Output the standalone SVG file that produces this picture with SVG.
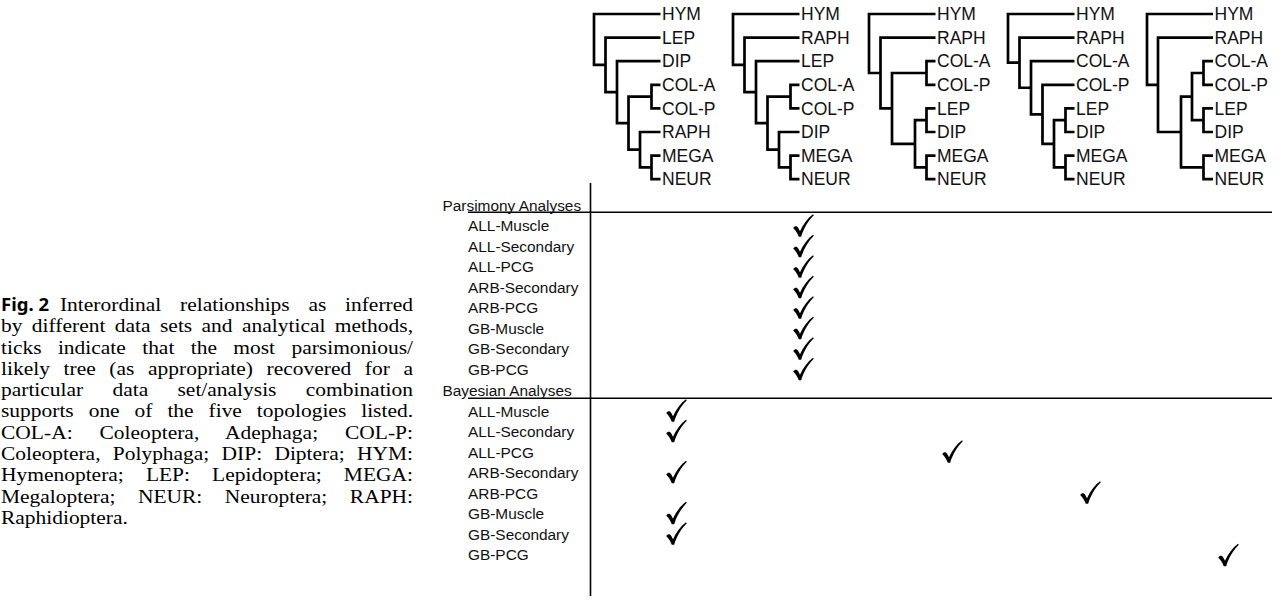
<svg xmlns="http://www.w3.org/2000/svg" xmlns:xlink="http://www.w3.org/1999/xlink" width="1283" height="600" viewBox="0 0 1283 600">
<style>
.br{fill:none;stroke:#000;stroke-width:2.7;stroke-linejoin:miter;stroke-linecap:butt}
.tl{font-family:"Liberation Sans",Arial,sans-serif;font-size:17.5px;fill:#111}
.rl{font-family:"Liberation Sans",Arial,sans-serif;font-size:15.4px;fill:#111}
.ax{stroke:#000;stroke-width:1.6;fill:none}
.cap{font-family:"Liberation Serif","Times New Roman",serif;font-size:18.5px;fill:#000}
.fig{font-family:"Noto Sans","Open Sans",sans-serif;font-weight:bold;font-size:18.5px;fill:#000}
</style>
<defs>
<path id="chk" d="M-9.8,2.5 C-8.2,0.3 -6,0.3 -4.7,2.4 L-3,5.8 C0,-1.2 4.6,-7.2 10,-11.2 L10.8,-10.2 C5.2,-4.5 0.6,3 -1.8,11.2 L-4.2,11.2 C-5.6,7.6 -7.2,5 -9.8,2.5 Z" fill="#000"/>
</defs>
<rect width="1283" height="600" fill="#fff"/>

<g id="caption">
<text class="fig" x="1" y="311">Fig. 2</text>
<g transform="scale(1.16,1)">
<text class="cap" x="51.7" y="311" textLength="304.3" lengthAdjust="spacing" word-spacing="11.5">Interordinal relationships as inferred</text>
<text class="cap" x="0.86" y="332.3" textLength="355.2" lengthAdjust="spacing" word-spacing="3.45">by different data sets and analytical methods,</text>
<text class="cap" x="0.86" y="353.6" textLength="355.2" lengthAdjust="spacing" word-spacing="9.5">ticks indicate that the most parsimonious/</text>
<text class="cap" x="0.86" y="374.9" textLength="355.2" lengthAdjust="spacing" word-spacing="7.15">likely tree (as appropriate) recovered for a</text>
<text class="cap" x="0.86" y="396.2" textLength="355.2" lengthAdjust="spacing" word-spacing="20.6">particular data set/analysis combination</text>
<text class="cap" x="0.86" y="417.5" textLength="355.2" lengthAdjust="spacing" word-spacing="8.25">supports one of the five topologies listed.</text>
<text class="cap" x="0.86" y="438.8" textLength="355.2" lengthAdjust="spacing" word-spacing="18.4">COL-A: Coleoptera, Adephaga; COL-P:</text>
<text class="cap" x="0.86" y="460.1" textLength="355.2" lengthAdjust="spacing" word-spacing="5.95">Coleoptera, Polyphaga; DIP: Diptera; HYM:</text>
<text class="cap" x="0.86" y="481.4" textLength="355.2" lengthAdjust="spacing" word-spacing="14.4">Hymenoptera; LEP: Lepidoptera; MEGA:</text>
<text class="cap" x="0.86" y="502.7" textLength="355.2" lengthAdjust="spacing" word-spacing="14.8">Megaloptera; NEUR: Neuroptera; RAPH:</text>
<text class="cap" x="0.86" y="524">Raphidioptera.</text>
</g>
</g>

<g id="tree1">
<path class="br" d="M660.5,14 H594 V64.9 H605.5 M660.5,37.6 H605.5 V92.2 H617 M660.5,61.2 H617 V123.15 H628.5 M651.5,96.6 H628.5 V149.7 H640 M660.5,84.8 H651.5 V108.4 H660.5 M660.5,132 H640 V167.4 H651.5 M660.5,155.6 H651.5 V179.2 H660.5"/>
<text class="tl" x="662" y="20.2">HYM</text>
<text class="tl" x="662" y="43.8">LEP</text>
<text class="tl" x="662" y="67.4">DIP</text>
<text class="tl" x="662" y="91">COL-A</text>
<text class="tl" x="662" y="114.6">COL-P</text>
<text class="tl" x="662" y="138.2">RAPH</text>
<text class="tl" x="662" y="161.8">MEGA</text>
<text class="tl" x="662" y="185.4">NEUR</text>
</g>

<g id="tree2">
<path class="br" d="M799.5,14 H733 V64.9 H744.5 M799.5,37.6 H744.5 V92.2 H756 M799.5,61.2 H756 V123.15 H767.5 M790.5,96.6 H767.5 V149.7 H779 M799.5,84.8 H790.5 V108.4 H799.5 M799.5,132 H779 V167.4 H790.5 M799.5,155.6 H790.5 V179.2 H799.5"/>
<text class="tl" x="801" y="20.2">HYM</text>
<text class="tl" x="801" y="43.8">RAPH</text>
<text class="tl" x="801" y="67.4">LEP</text>
<text class="tl" x="801" y="91">COL-A</text>
<text class="tl" x="801" y="114.6">COL-P</text>
<text class="tl" x="801" y="138.2">DIP</text>
<text class="tl" x="801" y="161.8">MEGA</text>
<text class="tl" x="801" y="185.4">NEUR</text>
</g>

<g id="tree3">
<path class="br" d="M935.5,14 H869 V73 H880.5 M935.5,37.6 H880.5 V108.4 H892 M926.5,73 H892 V143.8 H915 M926.5,120.2 H915 V167.4 H926.5 M935.5,61.2 H926.5 V84.8 H935.5 M935.5,108.4 H926.5 V132 H935.5 M935.5,155.6 H926.5 V179.2 H935.5"/>
<text class="tl" x="937" y="20.2">HYM</text>
<text class="tl" x="937" y="43.8">RAPH</text>
<text class="tl" x="937" y="67.4">COL-A</text>
<text class="tl" x="937" y="91">COL-P</text>
<text class="tl" x="937" y="114.6">LEP</text>
<text class="tl" x="937" y="138.2">DIP</text>
<text class="tl" x="937" y="161.8">MEGA</text>
<text class="tl" x="937" y="185.4">NEUR</text>
</g>

<g id="tree4">
<path class="br" d="M1074.5,14 H1008 V62.7 H1019.5 M1074.5,37.6 H1019.5 V87.75 H1031 M1074.5,61.2 H1031 V114.3 H1042.5 M1074.5,84.8 H1042.5 V143.8 H1054 M1065.5,120.2 H1054 V167.4 H1065.5 M1074.5,108.4 H1065.5 V132 H1074.5 M1074.5,155.6 H1065.5 V179.2 H1074.5"/>
<text class="tl" x="1076" y="20.2">HYM</text>
<text class="tl" x="1076" y="43.8">RAPH</text>
<text class="tl" x="1076" y="67.4">COL-A</text>
<text class="tl" x="1076" y="91">COL-P</text>
<text class="tl" x="1076" y="114.6">LEP</text>
<text class="tl" x="1076" y="138.2">DIP</text>
<text class="tl" x="1076" y="161.8">MEGA</text>
<text class="tl" x="1076" y="185.4">NEUR</text>
</g>

<g id="tree5">
<path class="br" d="M1213,14 H1147 V84.8 H1158 M1213,37.6 H1158 V132 H1181 M1192,96.6 H1181 V167.4 H1203.5 M1203.5,73 H1192 V120.2 H1203.5 M1213,61.2 H1203.5 V84.8 H1213 M1213,108.4 H1203.5 V132 H1213 M1213,155.6 H1203.5 V179.2 H1213"/>
<text class="tl" x="1214.5" y="20.2">HYM</text>
<text class="tl" x="1214.5" y="43.8">RAPH</text>
<text class="tl" x="1214.5" y="67.4">COL-A</text>
<text class="tl" x="1214.5" y="91">COL-P</text>
<text class="tl" x="1214.5" y="114.6">LEP</text>
<text class="tl" x="1214.5" y="138.2">DIP</text>
<text class="tl" x="1214.5" y="161.8">MEGA</text>
<text class="tl" x="1214.5" y="185.4">NEUR</text>
</g>

<g id="table">
<path class="ax" d="M590.5,183 V596 M468,212.3 H1272 M468,398.3 H1272"/>
<text class="rl" x="442.5" y="210.5">Parsimony Analyses</text>
<text class="rl" x="468" y="231">ALL-Muscle</text>
<text class="rl" x="468" y="251.5">ALL-Secondary</text>
<text class="rl" x="468" y="272">ALL-PCG</text>
<text class="rl" x="468" y="292.5">ARB-Secondary</text>
<text class="rl" x="468" y="313">ARB-PCG</text>
<text class="rl" x="468" y="333.5">GB-Muscle</text>
<text class="rl" x="468" y="354">GB-Secondary</text>
<text class="rl" x="468" y="374.5">GB-PCG</text>
<text class="rl" x="442.5" y="395.5">Bayesian Analyses</text>
<text class="rl" x="468" y="416.5">ALL-Muscle</text>
<text class="rl" x="468" y="437">ALL-Secondary</text>
<text class="rl" x="468" y="457.5">ALL-PCG</text>
<text class="rl" x="468" y="478">ARB-Secondary</text>
<text class="rl" x="468" y="498.5">ARB-PCG</text>
<text class="rl" x="468" y="519">GB-Muscle</text>
<text class="rl" x="468" y="539.5">GB-Secondary</text>
<text class="rl" x="468" y="560">GB-PCG</text>
</g>

<g id="ticks">
<use xlink:href="#chk" x="803" y="225.5"/>
<use xlink:href="#chk" x="803" y="246"/>
<use xlink:href="#chk" x="803" y="266.5"/>
<use xlink:href="#chk" x="803" y="287"/>
<use xlink:href="#chk" x="803" y="307.5"/>
<use xlink:href="#chk" x="803" y="328"/>
<use xlink:href="#chk" x="803" y="348.5"/>
<use xlink:href="#chk" x="803" y="369"/>
<use xlink:href="#chk" x="676" y="410.5"/>
<use xlink:href="#chk" x="676" y="431"/>
<use xlink:href="#chk" x="676" y="472"/>
<use xlink:href="#chk" x="676" y="513"/>
<use xlink:href="#chk" x="676" y="533.5"/>
<use xlink:href="#chk" x="952" y="451.5"/>
<use xlink:href="#chk" x="1090" y="492.5"/>
<use xlink:href="#chk" x="1228" y="555"/>
</g>
</svg>
